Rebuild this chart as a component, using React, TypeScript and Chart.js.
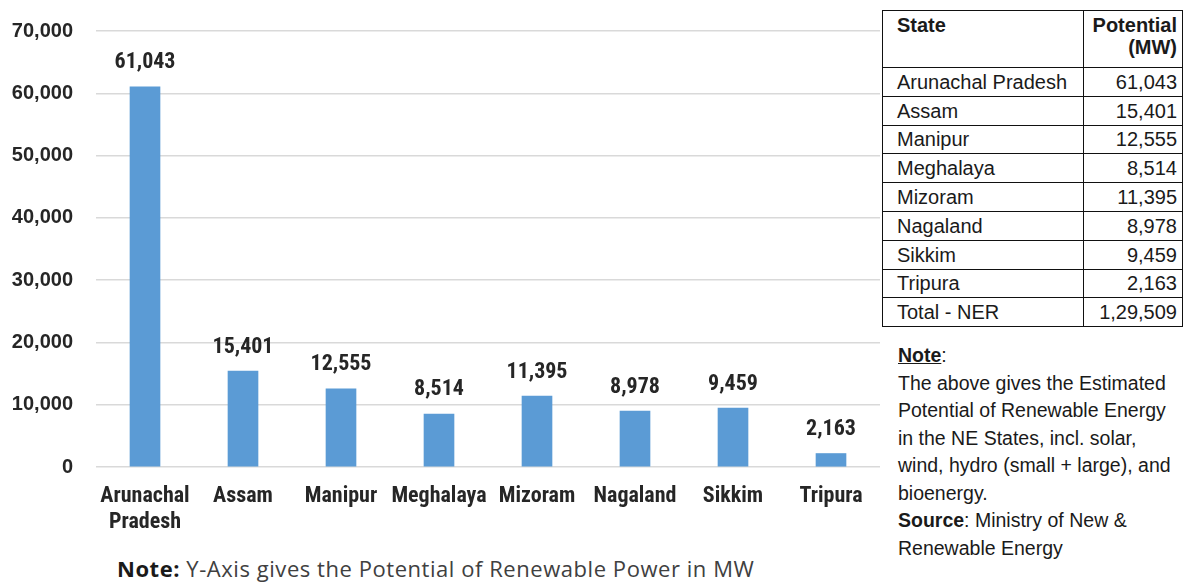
import React, { useEffect, useRef } from "react";
import { Chart, registerables } from "chart.js";

Chart.register(...registerables);

// ---- Data ----
const states = [
  "Arunachal Pradesh",
  "Assam",
  "Manipur",
  "Meghalaya",
  "Mizoram",
  "Nagaland",
  "Sikkim",
  "Tripura",
];
const axisLabels: (string | string[])[] = [
  ["Arunachal", "Pradesh"],
  "Assam",
  "Manipur",
  "Meghalaya",
  "Mizoram",
  "Nagaland",
  "Sikkim",
  "Tripura",
];
const potentialMW = [61043, 15401, 12555, 8514, 11395, 8978, 9459, 2163];
const totalLabel = "Total - NER";
const totalMW = 129509; // as printed in the source table
const yMax = 70000;
const yStep = 10000;

const noteLines = [
  "The above gives the Estimated",
  "Potential of Renewable Energy",
  "in the NE States, incl. solar,",
  "wind, hydro (small + large), and",
  "bioenergy.",
];

// Indian-style grouping (e.g. 1,29,509)
function fmtIN(n: number): string {
  const s = String(Math.round(n));
  if (s.length <= 3) return s;
  const last3 = s.slice(-3);
  const rest = s.slice(0, -3).replace(/\B(?=(\d{2})+(?!\d))/g, ",");
  return rest + "," + last3;
}

const NARROW = '"Liberation Sans Narrow", "Arial Narrow", "Roboto Condensed", "Liberation Sans", sans-serif';
const TEXT = "#262626";

const valueLabelPlugin = {
  id: "valueLabels",
  afterDatasetsDraw(chart: any) {
    const ctx = chart.ctx;
    const meta = chart.getDatasetMeta(0);
    const data = chart.data.datasets[0].data as number[];
    ctx.save();
    ctx.font = `bold 22px ${NARROW}`;
    ctx.fillStyle = TEXT;
    ctx.textAlign = "center";
    ctx.textBaseline = "middle";
    meta.data.forEach((bar: any, i: number) => {
      ctx.fillText(fmtIN(data[i]), bar.x, bar.y - 24);
    });
    ctx.restore();
  },
};

function BarChart() {
  const ref = useRef<HTMLCanvasElement>(null);
  useEffect(() => {
    if (!ref.current) return;
    const chart = new Chart(ref.current, {
      type: "bar",
      data: {
        labels: axisLabels as any,
        datasets: [
          {
            data: potentialMW,
            backgroundColor: "#5B9BD5",
            borderWidth: 0,
            barThickness: 30,
          },
        ],
      },
      options: {
        animation: false,
        responsive: true,
        maintainAspectRatio: false,
        layout: { padding: { top: 31, right: 2, left: 0, bottom: 0 } },
        plugins: {
          legend: { display: false },
          tooltip: { enabled: false },
        },
        scales: {
          x: {
            grid: { display: false, drawTicks: false },
            border: { display: false },
            ticks: {
              color: TEXT,
              font: { family: NARROW, size: 22, weight: "bold", lineHeight: 1.18 },
              padding: 17,
              maxRotation: 0,
              autoSkip: false,
            },
            afterFit: (s: any) => {
              s.height = 73;
            },
          },
          y: {
            min: 0,
            max: yMax,
            grid: { color: "#D9D9D9", lineWidth: 1.5, drawTicks: false },
            border: { display: false },
            ticks: {
              stepSize: yStep,
              color: TEXT,
              font: { family: '"Liberation Sans", Arial, sans-serif', size: 20, weight: "bold" },
              padding: 23,
              callback: (v: any) => fmtIN(Number(v)),
            },
            afterFit: (s: any) => {
              s.width = 96;
              s.paddingTop = 0;
              s.paddingBottom = 0;
            },
          },
        },
      },
      plugins: [valueLabelPlugin],
    });
    return () => chart.destroy();
  }, []);
  return <canvas ref={ref} />;
}

export default function App() {
  const cellBase: React.CSSProperties = {
    border: "1.5px solid #111",
    padding: "0 5px 0 14px",
    height: 28.8,
    lineHeight: "22px",
    whiteSpace: "nowrap",
    boxSizing: "border-box",
  };
  const numCell: React.CSSProperties = { ...cellBase, textAlign: "right", padding: "0 5px 0 5px" };
  return (
    <div
      style={{
        position: "fixed",
        left: 0,
        top: 0,
        width: 1187,
        height: 582,
        background: "#fff",
        overflow: "hidden",
      }}
    >
      <div style={{ position: "absolute", left: 0, top: 0, width: 882, height: 540 }}>
        <BarChart />
      </div>

      <div
        style={{
          position: "absolute",
          left: 117,
          top: 555,
          fontFamily: '"Open Sans", sans-serif',
          fontSize: 22,
          letterSpacing: 0.55,
          color: "#404040",
          whiteSpace: "nowrap",
          lineHeight: "27px",
        }}
      >
        <b style={{ color: "#1a1a1a" }}>Note:</b> Y-Axis gives the Potential of Renewable Power in MW
      </div>

      <table
        style={{
          position: "absolute",
          left: 882,
          top: 10,
          width: 301,
          borderCollapse: "collapse",
          fontFamily: '"Liberation Sans", Arial, sans-serif',
          fontSize: 20,
          color: "#1a1a1a",
        }}
      >
        <thead>
          <tr>
            <th
              style={{
                ...cellBase,
                width: 201,
                height: 57,
                textAlign: "left",
                verticalAlign: "top",
                paddingTop: 3,
              }}
            >
              State
            </th>
            <th
              style={{
                ...numCell,
                height: 57,
                verticalAlign: "top",
                paddingTop: 3,
              }}
            >
              Potential
              <br />
              (MW)
            </th>
          </tr>
        </thead>
        <tbody>
          {states.map((s, i) => (
            <tr key={s}>
              <td style={cellBase}>{s}</td>
              <td style={numCell}>{fmtIN(potentialMW[i])}</td>
            </tr>
          ))}
          <tr>
            <td style={cellBase}>{totalLabel}</td>
            <td style={numCell}>{fmtIN(totalMW)}</td>
          </tr>
        </tbody>
      </table>

      <div
        style={{
          position: "absolute",
          left: 898,
          top: 342,
          fontFamily: '"Liberation Sans", Arial, sans-serif',
          fontSize: 19.5,
          lineHeight: "27.5px",
          color: "#1a1a1a",
          whiteSpace: "nowrap",
        }}
      >
        <div>
          <b style={{ textDecoration: "underline" }}>Note</b>:
        </div>
        {noteLines.map((l) => (
          <div key={l}>{l}</div>
        ))}
        <div>
          <b>Source</b>: Ministry of New &amp;
        </div>
        <div>Renewable Energy</div>
      </div>
    </div>
  );
}
